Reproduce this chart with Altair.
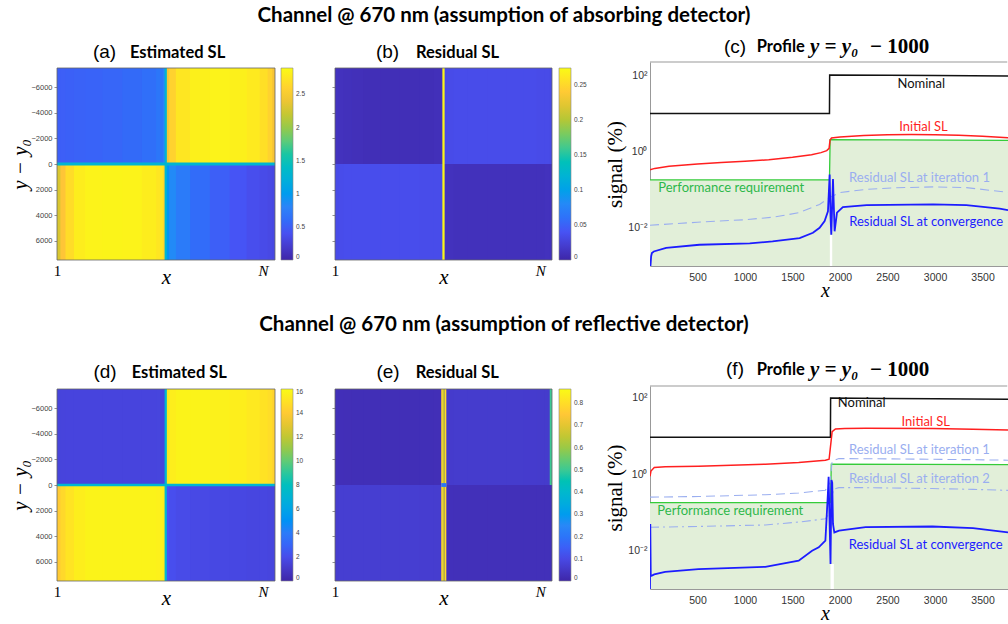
import altair as alt
import pandas as pd

# ---------------- style constants ----------------
PARULA = ["#3E26A8", "#4852F4", "#2E87F7", "#12B1D6", "#37C897",
          "#ABC739", "#FEC338", "#F9FB15"]
SANS = "Liberation Sans"
SERIF = "Liberation Serif"
CAL = "Lato"

# ---------------- heat-map data ----------------
X_EDGES = [0, 60, 150, 300, 500, 800, 1150, 1500, 1750, 1870, 1920,
           1980, 2100, 2350, 2700, 3050, 3350, 3580, 3720, 3800, 3850]
N_PIX = 3850
Y_HALF = 7500
Y_TICKS = [-6000, -4000, -2000, 0, 2000, 4000, 6000]
X_END_LABELS = [0, 3640]

A_MAX = 2.9
A_TICKS = [0, 0.5, 1, 1.5, 2, 2.5]
A_TOP = [0.50, 0.50, 0.51, 0.52, 0.53, 0.55, 0.58, 0.62, 0.68, 0.78,
         2.45, 2.60, 2.75, 2.82, 2.84, 2.82, 2.78, 2.70, 2.60, 2.45]
A_BOTTOM = [2.30, 2.50, 2.68, 2.80, 2.84, 2.85, 2.84, 2.80, 2.75, 2.65,
            0.95, 0.85, 0.72, 0.60, 0.50, 0.43, 0.38, 0.35, 0.33, 0.32]
A_LINES = [[0, 3850, -110, 110, 1.3], [1900, 1940, -7500, 7500, 1.3]]

B_MAX = 0.274
B_TICKS = [0, 0.05, 0.1, 0.15, 0.2, 0.25]
B_TOP = [0.012, 0.011, 0.010, 0.009, 0.008, 0.008, 0.008, 0.008, 0.009, 0.009,
         0.032, 0.033, 0.034, 0.034, 0.034, 0.034, 0.034, 0.033, 0.033, 0.032]
B_BOTTOM = [0.033, 0.034, 0.035, 0.035, 0.035, 0.035, 0.035, 0.034, 0.034, 0.033,
            0.012, 0.011, 0.010, 0.010, 0.010, 0.010, 0.010, 0.010, 0.011, 0.011]
B_LINES = [[1905, 1945, -7500, 7500, 0.27]]

D_MAX = 16
D_TICKS = [0, 2, 4, 6, 8, 10, 12, 14, 16]
D_TOP = [1.55, 1.58, 1.6, 1.6, 1.6, 1.6, 1.6, 1.6, 1.62, 1.65,
         15.2, 15.5, 15.7, 15.7, 15.6, 15.5, 15.3, 15.0, 14.8, 14.4]
D_BOTTOM = [14.0, 14.6, 15.1, 15.5, 15.7, 15.7, 15.7, 15.7, 15.6, 15.4,
            2.3, 2.1, 1.95, 1.85, 1.8, 1.75, 1.7, 1.7, 1.65, 1.65]
D_LINES = [[0, 3850, -90, 90, 7.2], [1900, 1940, -7500, 7500, 7.2]]

E_MAX = 0.864
E_TICKS = [0, 0.1, 0.2, 0.3, 0.4, 0.5, 0.6, 0.7, 0.8]
E_TOP = [0.028, 0.027, 0.026, 0.025, 0.025, 0.025, 0.025, 0.025, 0.026, 0.027,
         0.058, 0.060, 0.062, 0.062, 0.062, 0.062, 0.061, 0.060, 0.060, 0.058]
E_BOTTOM = [0.065, 0.067, 0.068, 0.068, 0.068, 0.068, 0.067, 0.066, 0.065, 0.064,
            0.032, 0.030, 0.028, 0.028, 0.028, 0.028, 0.028, 0.028, 0.029, 0.030]
E_LINES = [[1885, 1915, -7500, 7500, 0.80], [1915, 1945, -7500, 7500, 0.66],
           [1945, 1975, -7500, 7500, 0.80], [1885, 1975, -150, 150, 0.2],
           [3810, 3850, -7500, 0, 0.5]]

# ---------------- profile data (c) ----------------
X_MAX = 3768
X_TICKS = [500, 1000, 1500, 2000, 2500, 3000, 3500]

C_NOM_X = [0, 1889, 1891, 2500, 3000, 3768]
C_NOM_Y = [9.8, 9.8, 101, 99, 97, 94]
C_RED_X = [0, 50, 200, 500, 750, 1000, 1250, 1500, 1700, 1800, 1860, 1885, 1895,
           1910, 2000, 2250, 2500, 2750, 3000, 3250, 3500, 3768]
C_RED_Y = [0.33, 0.36, 0.41, 0.47, 0.51, 0.55, 0.61, 0.70, 0.82, 0.93, 1.05, 1.2, 2.0,
           2.25, 2.4, 2.6, 2.72, 2.76, 2.74, 2.65, 2.5, 2.28]
C_REQ_X = [0, 1889, 1896, 3768]
C_REQ_Y = [0.18, 0.18, 2.05, 1.94]
C_IT1_X = [0, 500, 1000, 1300, 1570, 1785, 1890, 2000, 2280, 2600, 2980, 3330, 3768]
C_IT1_Y = [0.0117, 0.014, 0.0163, 0.019, 0.025, 0.041, 0.062, 0.084, 0.102, 0.112,
           0.118, 0.113, 0.085]
C_CONV_X = [0, 5, 12, 20, 40, 170, 520, 1050, 1290, 1575, 1715, 1785, 1838, 1873,
            1891, 1900, 1908, 1926, 1943, 1968, 2030, 2280, 2980, 3330, 3680, 3768]
C_CONV_Y = [0.0012, 0.001, 0.0018, 0.0022, 0.0024, 0.0030, 0.0036, 0.0039, 0.0044,
            0.0054, 0.0074, 0.010, 0.015, 0.027, 0.25, 0.02, 0.0066, 0.19, 0.0081,
            0.025, 0.035, 0.0395, 0.041, 0.0395, 0.032, 0.029]
C_GAP = [1893, 1918, 0.0065]
C_LAB_T = ["Nominal", "Initial SL", "Performance requirement",
           "Residual SL at iteration 1", "Residual SL at convergence"]
C_LAB_X = [2855, 2879, 855, 2837, 2907]
C_LAB_Y = [58, 4.36, 0.108, 0.198, 0.0144]

# ---------------- profile data (f) ----------------
F_NOM_X = [0, 1899, 1901, 2500, 3000, 3768]
F_NOM_Y = [9.2, 9.2, 97, 95, 93, 90]
F_RED_X = [0, 10, 45, 160, 510, 1214, 1565, 1846, 1885, 1917, 1952, 2050, 2269,
           2972, 3400, 3768]
F_RED_Y = [0.88, 1.2, 1.48, 1.55, 1.61, 1.82, 2.01, 2.31, 2.45, 12.8, 15.1, 15.6,
           15.7, 15.5, 14.9, 14.1]
F_REQ_X = [0, 1900, 1908, 3768]
F_REQ_Y = [0.18, 0.18, 1.82, 1.78]
F_IT1_X = [0, 510, 1214, 1565, 1846, 1895, 1917, 1987, 2500, 2972, 3400, 3768]
F_IT1_Y = [0.25, 0.26, 0.29, 0.32, 0.38, 0.6, 2.2, 2.55, 2.5, 2.44, 2.38, 2.31]
F_IT2_X = [0, 510, 1214, 1565, 1846, 1895, 1930, 1987, 2269, 2972, 3400, 3768]
F_IT2_Y = [0.041, 0.043, 0.047, 0.056, 0.068, 0.1, 0.4, 0.443, 0.443, 0.42, 0.4, 0.377]
F_CONV_X = [0, 3, 8, 15, 45, 159, 510, 1214, 1565, 1706, 1776, 1846, 1872, 1880,
            1888, 1900, 1910, 1918, 1926, 1940, 1990, 2269, 2972, 3400, 3768]
F_CONV_Y = [0.001, 0.05, 0.0022, 0.0022, 0.0024, 0.0028, 0.0033, 0.0038, 0.0055,
            0.010, 0.0123, 0.0184, 0.3, 0.85, 0.1, 0.0045, 0.7, 0.6, 0.05, 0.030,
            0.0336, 0.0411, 0.0428, 0.0388, 0.030]
F_GAP = [1900, 1935, 0.0045]
F_LAB_T = ["Nominal", "Initial SL", "Residual SL at iteration 1",
           "Residual SL at iteration 2", "Performance requirement",
           "Residual SL at convergence"]
F_LAB_X = [2228, 2902, 2835, 2835, 845, 2902]
F_LAB_Y = [71.3, 23.4, 4.24, 0.734, 0.106, 0.0145]

BLACK = "#111111"
RED = "#ff1f1f"
GREEN = "#35cc3a"
GREEN_TXT = "#2db84a"
LIGHT = "#9aaef0"
BLUE = "#1c1cff"
FILL = "#e2efd9"


def txt(text, x, y, size, font=CAL, weight="normal", style="normal",
        color="black", align="center", baseline="middle"):
    return alt.Chart(pd.DataFrame({"t": [text]})).mark_text(
        font=font, fontSize=size, fontWeight=weight, fontStyle=style,
        color=color, align=align, baseline=baseline
    ).encode(x=alt.value(x), y=alt.value(y), text="t:N")


def heatmap(top, bottom, lines, vmax, ticks, row_h, yoff, plot_w, chart_w,
            show_y, letter, name, letter_x, name_x, title_y, extra=()):
    rows = []
    last = len(X_EDGES) - 1
    for i in range(last):
        # each cell is drawn up to the following edge so that the next cell
        # (drawn afterwards) covers the anti-aliased seam
        right = X_EDGES[min(i + 2, last)]
        rows.append({"x0": X_EDGES[i], "x1": right, "y0": -Y_HALF, "y1": 0, "v": top[i]})
        rows.append({"x0": X_EDGES[i], "x1": right, "y0": 0, "y1": Y_HALF, "v": bottom[i]})
    for x0, x1, y0, y1, v in lines:
        rows.append({"x0": x0, "x1": x1, "y0": y0, "y1": y1, "v": v})
    df = pd.DataFrame(rows)
    nst = len(PARULA) - 1
    stops = [vmax * k / nst for k in range(nst + 1)]
    xs = alt.Scale(domain=[0, N_PIX], range=[0, plot_w], nice=False, zero=False)
    ys = alt.Scale(domain=[-Y_HALF, Y_HALF], range=[yoff, yoff + 192], nice=False, zero=False)
    shift = row_h - (yoff + 192)
    xaxis = alt.Axis(
        values=X_END_LABELS, labelExpr="datum.value == 0 ? '1' : 'N'",
        labelFont=SERIF, labelFontSize=15, labelColor="black",
        labelFontStyle={"condition": {"test": "datum.value > 0", "value": "italic"}, "value": "normal"},
        labelBaseline="alphabetic", labelPadding=15 - shift, labelFlush=False, labelAngle=0,
        labelOverlap=False, ticks=False, tickSize=0, domain=False, grid=False,
        title="x", titleFont=SERIF, titleFontSize=21, titleFontStyle="italic",
        titleFontWeight="normal", titleColor="black", titleX=plot_w / 2,
        titleY=23 - shift, titleBaseline="alphabetic", titleAlign="center")
    ykw = dict(values=Y_TICKS, format="d", labelFont=SANS, labelFontSize=7.5,
               labelColor="#444", tickSize=3, tickColor="#777", tickWidth=0.8,
               labelPadding=2, labelOverlap=False, labelFlush=False,
               domain=False, grid=False)
    if show_y:
        ykw.update(title="y − y₀", titleFont=SERIF, titleFontSize=21,
                   titleFontStyle="italic", titleFontWeight="normal", titleColor="black",
                   titleX=-37, titleY=yoff + 96, titleAngle=270, titleAlign="center",
                   titleBaseline="middle")
    else:
        ykw.update(labels=False, title=None)
    yaxis = alt.Axis(**ykw)
    cscale = alt.Scale(domain=stops, range=PARULA, clamp=True, nice=False, zero=False)
    legend = alt.Legend(type="gradient", orient="none", legendX=224, legendY=yoff,
                        direction="vertical", gradientLength=192, gradientThickness=12,
                        title=None, values=ticks,
                        labelExpr="format(datum.value, '.3~g')",
                        labelFont=SANS, labelFontSize=6.5, labelColor="#444",
                        labelOffset=3, gradientStrokeColor="#888",
                        gradientStrokeWidth=0.6, padding=0, labelOverlap=False)
    cells = alt.Chart(df).mark_rect().encode(
        x=alt.X("x0:Q", scale=xs, axis=xaxis),
        x2="x1",
        y=alt.Y("y0:Q", scale=ys, axis=yaxis),
        y2="y1",
        color=alt.Color("v:Q", scale=cscale, legend=legend),
    )
    frame = alt.Chart(pd.DataFrame({"a": [0]})).mark_rect(
        filled=False, stroke="#666", strokeWidth=0.8
    ).encode(
        x=alt.XDatum(0, scale=xs, axis=xaxis), x2=alt.X2Datum(N_PIX),
        y=alt.YDatum(-Y_HALF, scale=ys, axis=yaxis), y2=alt.Y2Datum(Y_HALF),
    )
    layers = [cells, frame,
              txt(letter, letter_x, title_y, 19, font=SANS),
              txt(name, name_x, title_y + 0.5, 16.5, weight="bold", align="left")]
    layers += list(extra)
    return alt.layer(*layers).properties(width=chart_w, height=row_h)


def series_df(xv, yv):
    return pd.DataFrame({"x": xv, "y": yv})


def profile(series, labs, gap, req, ymax, height, letter, title_y):
    xs = alt.Scale(domain=[0, X_MAX], nice=False, zero=False)
    ys = alt.Scale(type="log", domain=[0.001, ymax], nice=False)
    xaxis = alt.Axis(values=X_TICKS, format="d", labelFont=SANS, labelFontSize=10.5,
                     labelColor="#333", ticks=False, tickSize=0, labelPadding=6,
                     labelFlush=False, labelOverlap=False, domain=True,
                     domainColor="#999", grid=False,
                     title="x", titleFont=SERIF, titleFontSize=20, titleFontStyle="italic",
                     titleFontWeight="normal", titleColor="black", titleX=175, titleY=30,
                     titleBaseline="alphabetic", titleAlign="center")
    yaxis = alt.Axis(values=[0.01, 1, 100],
                     labelExpr="datum.value > 10 ? '10²' : (datum.value > 0.1 ? '10⁰' : '10⁻²')",
                     labelFont=SANS, labelFontSize=10.5, labelColor="#333", ticks=False,
                     tickSize=0, labelPadding=3, labelOverlap=False, labelFlush=False,
                     domain=True, domainColor="#999", grid=False,
                     title="signal (%)", titleFont=SERIF, titleFontSize=21,
                     titleFontWeight="normal", titleColor="black", titleX=-35,
                     titleY=height / 2, titleAngle=270, titleAlign="center",
                     titleBaseline="middle")
    area = alt.Chart(series_df(*req)).mark_area(color=FILL, clip=True).encode(
        x=alt.X("x:Q", scale=xs, axis=xaxis),
        y=alt.Y("y:Q", scale=ys, axis=yaxis),
        y2=alt.Y2Datum(0.001),
    )
    gap_rect = alt.Chart(pd.DataFrame({"a": [0]})).mark_rect(color="white").encode(
        x=alt.XDatum(gap[0], scale=xs, axis=xaxis), x2=alt.X2Datum(gap[1]),
        y=alt.YDatum(0.001, scale=ys, axis=yaxis), y2=alt.Y2Datum(gap[2]),
    )
    top_rule = alt.Chart(pd.DataFrame({"a": [0]})).mark_rule(color="#999", strokeWidth=1).encode(
        x=alt.XDatum(0, scale=xs, axis=xaxis), x2=alt.X2Datum(X_MAX - 8),
        y=alt.YDatum(ymax, scale=ys, axis=yaxis),
    )
    layers = [area, gap_rect, top_rule]
    for xv, yv, color, width, dash in series:
        kw = dict(color=color, strokeWidth=width, clip=True)
        if dash:
            kw["strokeDash"] = dash
        layers.append(alt.Chart(series_df(xv, yv)).mark_line(**kw).encode(
            x=alt.X("x:Q", scale=xs, axis=xaxis),
            y=alt.Y("y:Q", scale=ys, axis=yaxis),
        ))
    ldf = pd.DataFrame({"x": labs[0], "y": labs[1], "t": labs[2], "c": labs[3]})
    layers.append(alt.Chart(ldf).mark_text(font=CAL, fontSize=13).encode(
        x=alt.X("x:Q", scale=xs, axis=xaxis),
        y=alt.Y("y:Q", scale=ys, axis=yaxis),
        text="t:N",
        color=alt.Color("c:N", scale=None),
    ))
    layers += [
        txt(letter, 85, title_y, 19, font=SANS),
        txt("Profile", 106.7, title_y + 0.5, 16.5, weight="bold", align="left"),
        txt("y = y₀", 160, title_y + 0.5, 21, font=SERIF, weight="bold", style="italic", align="left"),
        txt("− 1000", 220, title_y + 0.5, 21, font=SERIF, weight="bold", align="left"),
    ]
    return alt.layer(*layers).properties(width=358, height=height)


anchor = alt.Chart(pd.DataFrame({"a": [0]})).mark_rect(opacity=0).encode(
    x=alt.value(-57), x2=alt.value(-56), y=alt.value(-62), y2=alt.value(-61))

pa = heatmap(A_TOP, A_BOTTOM, A_LINES, A_MAX, A_TICKS, 204, 6, 218, 218, True,
             "(a)", "Estimated SL", 47.5, 73, -10, extra=[anchor])
pb = heatmap(B_TOP, B_BOTTOM, B_LINES, B_MAX, B_TICKS, 204, 6, 217, 255, False,
             "(b)", "Residual SL", 52.5, 81, -10,
             extra=[txt("Channel @ 670 nm (assumption of absorbing detector)", 169, -46, 20.5, weight="bold")])
pc = profile(
    [(C_REQ_X, C_REQ_Y, GREEN, 1.3, None),
     (C_NOM_X, C_NOM_Y, BLACK, 1.5, None),
     (C_RED_X, C_RED_Y, RED, 1.5, None),
     (C_IT1_X, C_IT1_Y, LIGHT, 1.1, [9, 5]),
     (C_CONV_X, C_CONV_Y, BLUE, 1.8, None)],
    (C_LAB_X, C_LAB_Y, C_LAB_T, [BLACK, RED, GREEN_TXT, LIGHT, BLUE]),
    C_GAP, (C_REQ_X, C_REQ_Y), 220, 204, "(c)", -15.5)

pd_ = heatmap(D_TOP, D_BOTTOM, D_LINES, D_MAX, D_TICKS, 203, 3, 218, 218, True,
              "(d)", "Estimated SL", 48, 74.7, -14)
pe = heatmap(E_TOP, E_BOTTOM, E_LINES, E_MAX, E_TICKS, 203, 3, 217, 255, False,
             "(e)", "Residual SL", 53, 80.7, -14,
             extra=[txt("Channel @ 670 nm (assumption of reflective detector)", 169, -61, 20.5, weight="bold")])
pf = profile(
    [(F_REQ_X, F_REQ_Y, GREEN, 1.3, None),
     (F_NOM_X, F_NOM_Y, BLACK, 1.5, None),
     (F_RED_X, F_RED_Y, RED, 1.5, None),
     (F_IT1_X, F_IT1_Y, LIGHT, 1.1, [9, 5]),
     (F_IT2_X, F_IT2_Y, LIGHT, 1.1, [9, 4, 2, 4]),
     (F_CONV_X, F_CONV_Y, BLUE, 1.8, None)],
    (F_LAB_X, F_LAB_Y, F_LAB_T, [BLACK, RED, LIGHT, LIGHT, GREEN_TXT, BLUE]),
    F_GAP, (F_REQ_X, F_REQ_Y), 200, 203, "(f)", -17)

chart = alt.concat(
    pa, pb, pc, pd_, pe, pf, columns=3,
    spacing={"row": 120, "column": 60}, bounds="flush", align="each",
).resolve_scale(
    color="independent", x="independent", y="independent"
).resolve_legend(color="independent").properties(
    padding={"left": 0, "top": 0, "right": 0, "bottom": 0}
).configure_view(stroke=None).configure_axis(
    grid=False, labelOverlap=False
).configure_legend(gradientLength=192, gradientThickness=12)

chart.save("out.html", embed_options={"renderer": "svg", "actions": False})
